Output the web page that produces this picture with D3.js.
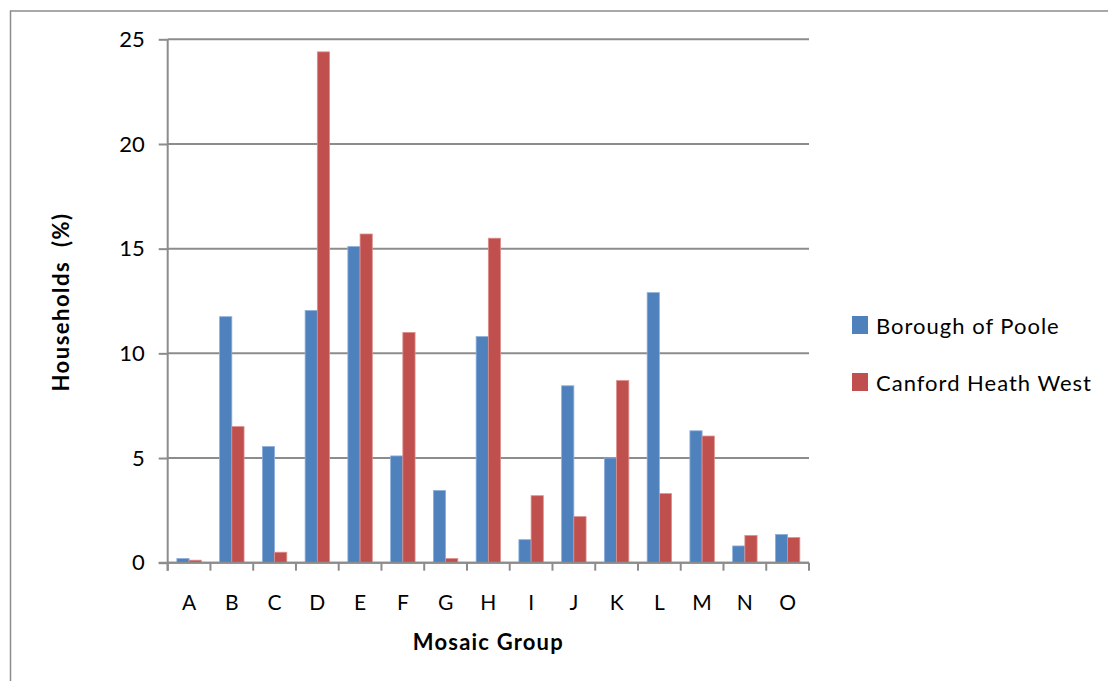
<!DOCTYPE html>
<html>
<head>
<meta charset="utf-8">
<script src="https://cdn.jsdelivr.net/npm/d3@7"></script>
<style>
  body { margin: 0; background: #fff; }
  svg { display: block; font-family: Lato, "Open Sans", sans-serif; }
</style>
</head>
<body>
<svg id="chart" width="1108" height="681"></svg>
<script>
// mosaic groups and the two series (% of households)
const categories = ["A", "B", "C", "D", "E", "F", "G", "H", "I", "J", "K", "L", "M", "N", "O"];
const seriesNames = ["Borough of Poole", "Canford Heath West"];
const poole = [0.2, 11.75, 5.55, 12.05, 15.1, 5.1, 3.45, 10.8, 1.1, 8.45, 5.0, 12.9, 6.3, 0.8, 1.35];
const canford = [0.12, 6.5, 0.5, 24.4, 15.7, 11.0, 0.2, 15.5, 3.2, 2.2, 8.7, 3.3, 6.05, 1.3, 1.2];
const yTicks = [0, 5, 10, 15, 20, 25];
const colors = ["#4F81BD", "#C0504D"];
const edges = ["#8eb0da", "#dc8f8c"];

const svg = d3.select("#chart");
const margin = { top: 39.3, left: 167.7, right: 299, bottom: 118.3 };
const W = 1108, H = 681;
const innerW = W - margin.left - margin.right;
const innerH = H - margin.top - margin.bottom;

// outer chart frame (runs past the right and bottom edges)
svg.append("rect")
  .attr("x", 10.5).attr("y", 11)
  .attr("width", 1200).attr("height", 800)
  .attr("fill", "none")
  .attr("stroke", "#8c8c8c")
  .attr("stroke-width", 1.5);

const g = svg.append("g")
  .attr("transform", `translate(${margin.left},${margin.top})`);

const x = d3.scaleBand().domain(categories).range([0, innerW]);
const barW = x.bandwidth() / 3.5;
const x1 = d3.scaleBand().domain([0, 1]).range([0, barW * 2]);
const y = d3.scaleLinear().domain([0, 25]).range([innerH, 0]);

// gridlines + y axis
const yAxis = g.append("g")
  .call(d3.axisLeft(y).tickValues(yTicks).tickSize(9).tickPadding(14));
yAxis.select(".domain").remove();
yAxis.selectAll(".tick line").attr("stroke", "#8c8c8c").attr("stroke-width", 2);
yAxis.selectAll(".tick text")
  .attr("font-size", 22).attr("fill", "#000")
  .attr("font-family", "Lato, sans-serif");

g.append("g")
  .selectAll("line")
  .data(yTicks)
  .join("line")
  .attr("x1", 0).attr("x2", innerW)
  .attr("y1", d => y(d)).attr("y2", d => y(d))
  .attr("stroke", "#8c8c8c")
  .attr("stroke-width", 2);

// bars
const data = categories.map((c, i) => ({ name: c, values: [poole[i], canford[i]] }));
const groups = g.selectAll(".grp")
  .data(data)
  .join("g")
  .attr("class", "grp")
  .attr("transform", d => `translate(${x(d.name) + (x.bandwidth() - barW * 2) / 2},0)`);

groups.selectAll("rect")
  .data(d => d.values.map((v, k) => ({ k, v })))
  .join("rect")
  .attr("x", d => x1(d.k))
  .attr("y", d => y(d.v))
  .attr("width", x1.bandwidth())
  .attr("height", d => innerH - y(d.v))
  .attr("fill", d => colors[d.k])
  .attr("stroke", d => edges[d.k])
  .attr("stroke-width", 0.8);

// x axis
const xAxis = g.append("g")
  .attr("transform", `translate(0,${innerH})`)
  .call(d3.axisBottom(x).tickSize(0).tickPadding(32));
xAxis.select(".domain").remove();
xAxis.selectAll(".tick text")
  .attr("font-size", 21).attr("fill", "#000")
  .attr("font-family", "Lato, sans-serif");

// x tick marks on band edges
g.append("g")
  .selectAll("line")
  .data(categories.concat(["end"]))
  .join("line")
  .attr("x1", (d, i) => i * x.bandwidth())
  .attr("x2", (d, i) => i * x.bandwidth())
  .attr("y1", innerH).attr("y2", innerH + 8)
  .attr("stroke", "#8c8c8c").attr("stroke-width", 2);

// axis lines
g.append("line")
  .attr("x1", 0).attr("x2", 0).attr("y1", 0).attr("y2", innerH + 8)
  .attr("stroke", "#8c8c8c").attr("stroke-width", 2);
g.append("line")
  .attr("x1", -9).attr("x2", innerW).attr("y1", innerH).attr("y2", innerH)
  .attr("stroke", "#8c8c8c").attr("stroke-width", 2);

// axis titles
svg.append("text")
  .attr("x", margin.left + innerW / 2)
  .attr("y", 650)
  .attr("text-anchor", "middle")
  .attr("font-size", 22).attr("font-weight", "bold")
  .attr("letter-spacing", 1.2)
  .text("Mosaic Group");

svg.append("text")
  .attr("transform", "translate(69,302) rotate(-90)")
  .attr("text-anchor", "middle")
  .attr("font-size", 22).attr("font-weight", "bold")
  .attr("letter-spacing", 1.5)
  .attr("xml:space", "preserve")
  .text("Households  (%)");

// legend
const legend = svg.append("g");
seriesNames.forEach((name, i) => {
  const ly = 316 + i * 57;
  legend.append("rect")
    .attr("x", 852).attr("y", ly)
    .attr("width", 16).attr("height", 18)
    .attr("fill", colors[i]);
  legend.append("text")
    .attr("x", 876).attr("y", ly + 18)
    .attr("font-size", 22)
    .attr("letter-spacing", 1)
    .text(name);
});
</script>
</body>
</html>
